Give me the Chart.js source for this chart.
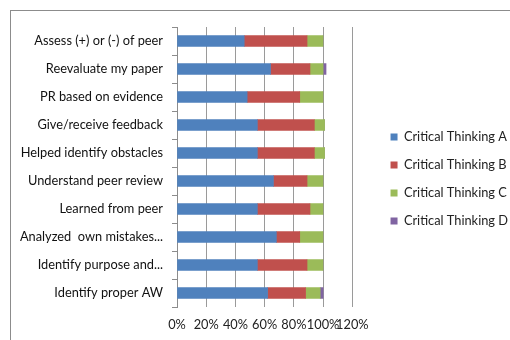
<!DOCTYPE html>
<html>
<head>
<meta charset="utf-8">
<script src="https://cdn.jsdelivr.net/npm/chart.js@4"></script>
<style>
  html, body { margin: 0; padding: 0; background: #fff; }
  #wrap { position: relative; width: 510px; height: 340px; overflow: hidden; }
  #frame { position: absolute; left: 10px; top: 10px; width: 520px; height: 340px;
           border-left: 1px solid #8c8c8c; border-top: 1px solid #8c8c8c; }
  canvas { position: absolute; left: 0; top: 0; }
</style>
</head>
<body>
<div id="wrap">
  <div id="frame"></div>
  <canvas id="chart" width="510" height="340"></canvas>
</div>
<script>
// Categories, top to bottom
const categories = [
  'Assess (+) or (-) of peer',
  'Reevaluate my paper',
  'PR based on evidence',
  'Give/receive feedback',
  'Helped identify obstacles',
  'Understand peer review',
  'Learned from peer',
  'Analyzed  own mistakes...',
  'Identify purpose and...',
  'Identify proper AW'
];

// Percent of responses per level
const thinkingA = [46, 64, 48, 55, 55, 66, 55, 68, 55, 62];
const thinkingB = [43, 27, 36, 39, 39, 23, 36, 16, 34, 26];
const thinkingC = [11, 9, 16, 7, 7, 11, 9, 16, 11, 10];
const thinkingD = [0, 2, 0, 0, 0, 0, 0, 0, 0, 2];

const xTicks = [0, 20, 40, 60, 80, 100, 120];

const font = { family: 'Lato, "Open Sans", sans-serif', size: 12.8 };

new Chart(document.getElementById('chart'), {
  type: 'bar',
  data: {
    labels: categories,
    datasets: [
      { label: 'Critical Thinking A', data: thinkingA, backgroundColor: '#4F81BD' },
      { label: 'Critical Thinking B', data: thinkingB, backgroundColor: '#C0504D' },
      { label: 'Critical Thinking C', data: thinkingC, backgroundColor: '#9BBB59' },
      { label: 'Critical Thinking D', data: thinkingD, backgroundColor: '#8064A2' }
    ]
  },
  options: {
    indexAxis: 'y',
    responsive: false,
    animation: false,
    barThickness: 11,
    layout: { padding: { left: 10, top: 27, right: -8, bottom: 0 } },
    plugins: {
      tooltip: { enabled: false },
      legend: {
        position: 'right',
        align: 'start',
        maxWidth: 200,
        // blank title only pushes the entries down
        title: { display: true, text: ' ', font: { size: 12 }, padding: { top: 74, bottom: 0 } },
        labels: {
          boxWidth: 7,
          boxHeight: 7,
          padding: 15.2,
          color: '#222',
          font: font
        }
      }
    },
    scales: {
      x: {
        stacked: true,
        min: 0,
        max: 120,
        afterBuildTicks: axis => { axis.ticks = xTicks.map(v => ({ value: v })); },
        afterFit: axis => { axis.height = 33; },
        grid: { color: '#9a9a9a', drawTicks: false },
        border: { display: false },
        ticks: {
          padding: 10,
          color: '#222',
          font: font,
          autoSkip: false,
          maxRotation: 0,
          minRotation: 0,
          callback: v => v + '%'
        }
      },
      y: {
        stacked: true,
        afterFit: axis => { axis.width = 167; },
        grid: { drawOnChartArea: false, tickLength: 5, color: '#8c8c8c' },
        border: { color: '#8c8c8c' },
        ticks: { padding: 9, color: '#111', font: font }
      },
      // empty spacer between plot and legend
      gap: {
        type: 'linear',
        position: 'right',
        display: true,
        afterFit: axis => { axis.width = 23; },
        grid: { display: false },
        border: { display: false },
        ticks: { display: false }
      }
    }
  }
});
</script>
</body>
</html>
